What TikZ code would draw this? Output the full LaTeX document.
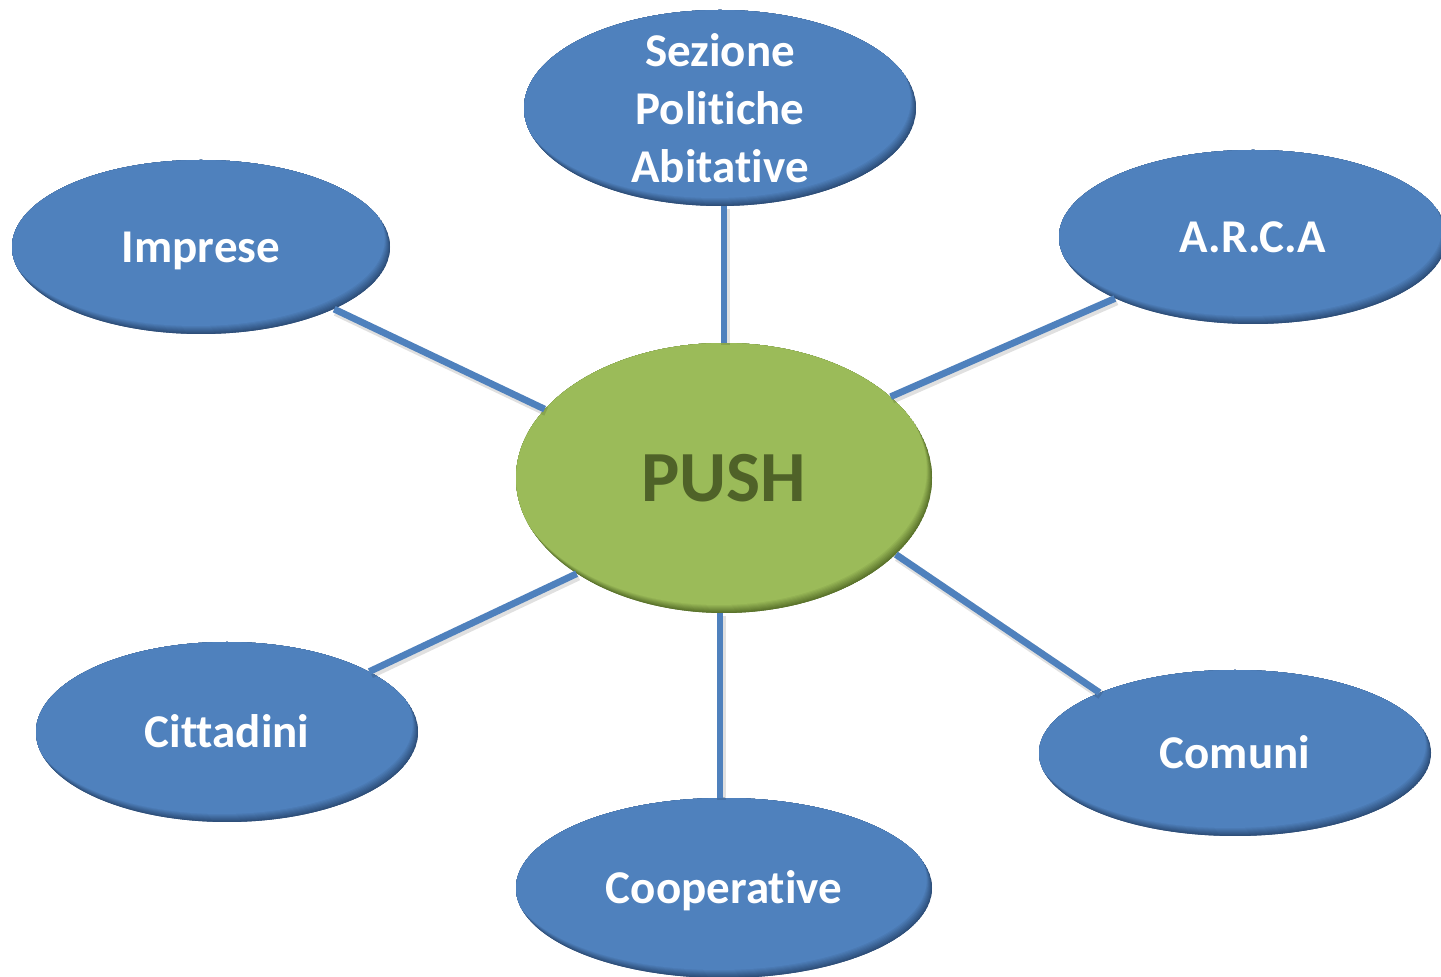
\documentclass[tikz,border=0pt]{standalone}
\usepackage{fontspec}
\setmainfont[Ligatures=NoCommon]{Carlito}
\usetikzlibrary{shapes.geometric,calc}
\definecolor{bmain}{HTML}{4F81BD}
\definecolor{bdark}{HTML}{2E4F7A}
\definecolor{gmain}{HTML}{9BBB59}
\definecolor{gdark}{HTML}{5B742C}
\definecolor{ptext}{HTML}{4F6228}
\tikzset{
  bubble/.style 2 args={ellipse, inner sep=0pt, draw=none, fill=#2,
    path picture={
      \foreach \k in {0,...,8}{
        \pgfmathtruncatemacro\pct{\k*100/8}
        \fill[#1!\pct!#2] let \p1=(path picture bounding box.north east),
          \p2=(path picture bounding box.south west) in
          ($(path picture bounding box.center)+(-\k*0.33pt,\k*0.5pt)$)
          ellipse [x radius={(\x1-\x2)/2}, y radius={(\y1-\y2)/2}];
      }
    }},
  bubtext/.style={text=white, font=\bfseries\fontsize{23.5}{29}\selectfont, align=center},
  bluebub/.style={bubble={bmain}{bdark}, bubtext},
  oneline/.style={text height=15.1pt, text depth=0pt},
  greenbub/.style={bubble={gmain}{gdark}, text=ptext, font=\bfseries\fontsize{36}{42}\selectfont, text height=23.2pt, text depth=0pt},
  link/.style={draw=bmain, line width=3.4pt},
  linkshadow/.style={draw=black, opacity=0.12, line width=4.5pt}
}
\begin{document}
\begin{tikzpicture}[x=0.5pt,y=-0.5pt]
\useasboundingbox[fill=white] (0,0) rectangle (1441,977);
\begin{scope}
\clip (0,0) rectangle (1441,977);
\node[greenbub, minimum width=208pt, minimum height=135pt] (push) at (724,478) {PUSH};
\node[bluebub, minimum width=196pt, minimum height=98pt,
      label={[bubtext, inner sep=0pt, name=seztext]center:{Sezione\\Politiche\\Abitative}}] (sez) at (720,108) {};
\node[bluebub, oneline, minimum width=189pt, minimum height=87pt] (imp) at (201,247) {Imprese};
\node[bluebub, oneline, minimum width=194pt, minimum height=87pt] (arca) at (1253,237) {A.R.C.A};
\node[bluebub, oneline, minimum width=191pt, minimum height=90pt] (cit) at (227,732) {Cittadini};
\node[bluebub, oneline, minimum width=196pt, minimum height=83pt] (com) at (1235,753) {Comuni};
\node[bluebub, oneline, minimum width=208pt, minimum height=90pt] (coop) at (724,888) {Cooperative};

\begin{scope}[transform canvas={shift={(0.8pt,-1.2pt)}}]
\draw[linkshadow] (push.north) -- (push.north |- sez.south);
\draw[linkshadow] ([xshift=-2pt]push.south) -- ([xshift=-2pt]push.south |- coop.north);
\draw[linkshadow] (imp.-25) -- (push.159);
\draw[linkshadow] (arca.204.5) -- (push.26.6);
\draw[linkshadow] (cit.23.9) -- (push.213.9);
\draw[linkshadow] (com.156.5) -- (push.-24.8);
\end{scope}
\draw[link] (push.north) -- (push.north |- sez.south);
\draw[link] ([xshift=-2pt]push.south) -- ([xshift=-2pt]push.south |- coop.north);
\draw[link] (imp.-25) -- (push.159);
\draw[link] (arca.204.5) -- (push.26.6);
\draw[link] (cit.23.9) -- (push.213.9);
\draw[link] (com.156.5) -- (push.-24.8);
\end{scope}
\end{tikzpicture}
\end{document}
